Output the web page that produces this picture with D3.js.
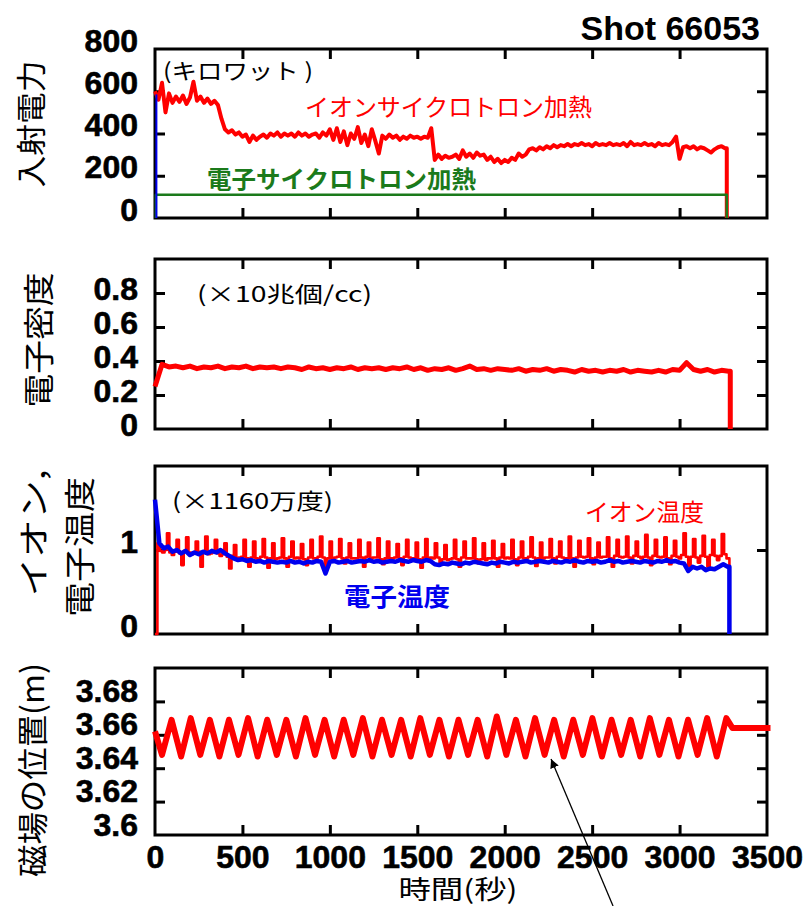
<!DOCTYPE html>
<html>
<head>
<meta charset="utf-8">
<script src="https://cdn.jsdelivr.net/npm/d3@7"></script>
<style>
  body { margin: 0; background: #fff; }
  .tick text { font-family: "Liberation Sans", Arial, sans-serif; font-weight: bold; font-size: 32px; fill: #000; stroke: #000; stroke-width: 0.6px; }
  .jp { font-family: "Noto Sans CJK JP", sans-serif; }
</style>
</head>
<body>
<div id="chart"></div>
<script>
/* DATA */
// time axis
const timeTicks = [0, 500, 1000, 1500, 2000, 2500, 3000, 3500];

// panel 1: injected power (kW), ICH sampled every 20 s from t = 0
const ichStep = 20;
const ichPower = [
  600, 560, 640, 500, 590, 545, 575, 550, 580, 540,
  570, 645, 555, 575, 545, 565, 540, 555, 535, 470,
  420, 405, 415, 395, 405, 385, 395, 360, 390, 370,
  385, 395, 380, 400, 390, 405, 385, 400, 390, 400,
  385, 405, 390, 400, 385, 395, 400, 380, 405, 390,
  420, 370, 425, 360, 410, 345, 400, 375, 430, 355,
  395, 340, 420, 365, 305, 390, 375, 395, 380, 390,
  370, 385, 375, 390, 380, 385, 375, 385, 380, 425,
  275, 300, 280, 295, 285, 290, 300, 280, 320, 290,
  305, 285, 310, 295, 300, 275, 290, 265, 280, 260,
  275, 265, 285, 275, 305, 290, 300, 325, 330, 320,
  335, 325, 340, 330, 345, 335, 345, 340, 350, 340,
  350, 345, 355, 345, 350, 340, 355, 345, 350, 345,
  355, 345, 350, 345, 355, 340, 360, 345, 350, 345,
  355, 345, 350, 340, 355, 345, 350, 345, 360, 385,
  280, 335, 340, 330, 340, 325, 335, 330, 320, 310,
  325, 335, 340, 330
];
const ichEnd = 3270;
const echTimes = [5, 5, 3270, 3270];
const echPower = [0, 110, 110, 0];
const startTimes = [8, 8];
const startPower = [0, 585];

// panel 2: electron density (x10^19 m^-3), every 40 s
const neStep = 40;
const density = [
  0.25, 0.38, 0.365, 0.37, 0.36, 0.37, 0.355, 0.365, 0.36, 0.37,
  0.355, 0.365, 0.36, 0.37, 0.355, 0.365, 0.36, 0.365, 0.355, 0.365,
  0.36, 0.35, 0.365, 0.355, 0.36, 0.35, 0.36, 0.355, 0.365, 0.35,
  0.36, 0.355, 0.36, 0.35, 0.36, 0.355, 0.365, 0.35, 0.36, 0.345,
  0.355, 0.35, 0.36, 0.345, 0.355, 0.37, 0.35, 0.355, 0.345, 0.355,
  0.35, 0.345, 0.355, 0.34, 0.35, 0.345, 0.355, 0.34, 0.35, 0.345,
  0.335, 0.35, 0.34, 0.345, 0.335, 0.345, 0.34, 0.35, 0.335, 0.345,
  0.34, 0.335, 0.345, 0.335, 0.35, 0.345, 0.39, 0.35, 0.34, 0.35,
  0.335, 0.345, 0.34
];
const neEnd = 3290;

// panel 3: ion temperature (x11.6 MK), every 13.675 s (4 samples per 54.7 s)
const tiStep = 13.675;
const ionTemp = [
  0, 1.08, 0.99, 0.97,   1.0, 1.2, 0.97, 0.94,   0.98, 1.12, 0.96, 0.82,
  0.99, 1.15, 0.97, 0.95, 0.96, 1.1, 0.98, 0.8,   0.97, 1.16, 0.95, 0.96,
  0.98, 1.12, 0.96, 0.93, 0.95, 1.08, 0.92, 0.78, 0.93, 1.06, 0.9, 0.91,
  0.92, 1.12, 0.9, 0.8,   0.91, 1.1, 0.9, 0.89,   0.92, 1.13, 0.91, 0.79,
  0.9, 1.08, 0.89, 0.9,   0.91, 1.14, 0.9, 0.8,   0.92, 1.1, 0.9, 0.91,
  0.9, 1.07, 0.89, 0.82,  0.91, 1.12, 0.9, 0.9,   0.92, 1.16, 0.91, 0.81,
  0.9, 1.1, 0.89, 0.91,   0.92, 1.13, 0.9, 0.84,  0.91, 1.08, 0.9, 0.9,
  0.9, 1.12, 0.91, 0.8,   0.92, 1.09, 0.9, 0.91,  0.91, 1.14, 0.89, 0.83,
  0.9, 1.1, 0.9, 0.9,     0.91, 1.07, 0.9, 0.82,  0.92, 1.12, 0.91, 0.9,
  0.9, 1.09, 0.89, 0.79,  0.91, 1.13, 0.9, 0.91,  0.9, 1.08, 0.91, 0.83,
  0.89, 1.06, 0.88, 0.89, 0.9, 1.12, 0.89, 0.8,   0.91, 1.1, 0.9, 0.9,
  0.9, 1.14, 0.89, 0.84,  0.89, 1.08, 0.88, 0.9,  0.9, 1.11, 0.9, 0.8,
  0.91, 1.07, 0.9, 0.91,  0.9, 1.12, 0.89, 0.82,  0.91, 1.1, 0.9, 0.9,
  0.92, 1.15, 0.91, 0.81, 0.9, 1.09, 0.9, 0.91,   0.91, 1.13, 0.9, 0.84,
  0.92, 1.1, 0.91, 0.9,   0.9, 1.16, 0.9, 0.8,    0.91, 1.11, 0.92, 0.91,
  0.92, 1.14, 0.9, 0.83,  0.91, 1.09, 0.91, 0.92, 0.92, 1.15, 0.9, 0.8,
  0.93, 1.12, 0.92, 0.91, 0.92, 1.16, 0.91, 0.84, 0.93, 1.1, 0.92, 0.9,
  0.92, 1.18, 0.91, 0.82, 0.93, 1.12, 0.92, 0.91, 0.92, 1.15, 0.9, 0.83,
  0.93, 1.11, 0.92, 0.9,  0.94, 1.2, 0.92, 0.81,  0.92, 1.13, 0.91, 0.85,
  0.93, 1.17, 0.92, 0.8,  0.94, 1.12, 0.93, 0.88, 0.93, 1.19, 0.95, 0.9
];
// electron temperature, every 25 s
const teStep = 25;
const elecTemp = [
  1.6, 1.08, 1.02, 1.04, 0.98, 1.0, 0.96, 0.99, 0.94, 0.97,
  0.95, 0.98, 0.96, 0.99, 0.97, 1.0, 0.96, 0.93, 0.9, 0.88,
  0.89, 0.87, 0.88, 0.86, 0.87, 0.85, 0.87, 0.86, 0.85, 0.86,
  0.85, 0.87, 0.85, 0.86, 0.84, 0.86, 0.85, 0.87, 0.86, 0.72,
  0.86, 0.87, 0.85, 0.86, 0.87, 0.85, 0.86, 0.87, 0.86, 0.88,
  0.86, 0.87, 0.85, 0.86, 0.87, 0.86, 0.88, 0.87, 0.86, 0.88,
  0.87, 0.86, 0.88, 0.87, 0.83, 0.82, 0.84, 0.83, 0.85, 0.84,
  0.83, 0.85, 0.84, 0.86, 0.85, 0.84, 0.83, 0.85, 0.84, 0.86,
  0.85, 0.84, 0.86, 0.85, 0.86, 0.87, 0.85, 0.86, 0.87, 0.86,
  0.85, 0.87, 0.86, 0.85, 0.87, 0.86, 0.88, 0.86, 0.85, 0.87,
  0.86, 0.87, 0.85, 0.86, 0.88, 0.86, 0.87, 0.85, 0.86, 0.87,
  0.86, 0.85, 0.87, 0.86, 0.85, 0.87, 0.86, 0.88, 0.86, 0.87,
  0.85, 0.84, 0.75, 0.8, 0.78, 0.8, 0.76, 0.78, 0.77, 0.8,
  0.83, 0.8
];
const tEnd = 3285;

// panel 4: magnetic axis position (m); alternating trough / peak every 54.7 s from t = 40
const axStart = 40, axStep = 54.7;
const axisPos = [
  3.648, 3.669, 3.647, 3.670, 3.648, 3.669, 3.647, 3.669, 3.648, 3.670,
  3.647, 3.669, 3.648, 3.669, 3.647, 3.670, 3.648, 3.669, 3.647, 3.669,
  3.648, 3.670, 3.647, 3.669, 3.648, 3.669, 3.647, 3.670, 3.648, 3.669,
  3.647, 3.669, 3.648, 3.669, 3.647, 3.671, 3.648, 3.669, 3.647, 3.670,
  3.648, 3.669, 3.647, 3.669, 3.648, 3.670, 3.647, 3.669, 3.648, 3.669,
  3.647, 3.670, 3.648, 3.669, 3.647, 3.669, 3.648, 3.670, 3.647, 3.670
];
const axInitial = [0, 3.662];
const axHoldTimes = [3303, 3520];
const axHold = 3.664;

/* LAYOUT */
const W = 807, H = 906;
const X0 = 155, X1 = 767;
const RED = "#ff0000", BLUE = "#0000ee", GREEN = "#1b7a1b";

const svg = d3.select("#chart").append("svg")
  .attr("width", W).attr("height", H)
  .style("display", "block");

const x = d3.scaleLinear().domain([0, 3500]).range([X0, X1]);

const y1 = d3.scaleLinear().domain([0, 800]).range([218, 49]);
const y2 = d3.scaleLinear().domain([0, 1]).range([429, 259]);
const y3 = d3.scaleLinear().domain([0, 2]).range([634, 466]);
const y4 = d3.scaleLinear().domain([3.6, 3.7]).range([835, 668]);

const series = (vals, t0, step) => vals.map((v, i) => [t0 + i * step, v]);

function frame(y, labels, inner, dy, showX) {
  const top = y.range()[1], bottom = y.range()[0];
  svg.append("rect")
    .attr("x", X0).attr("y", top)
    .attr("width", X1 - X0).attr("height", bottom - top)
    .attr("fill", "none").attr("stroke", "#000").attr("stroke-width", 3);

  const style = g => {
    g.select(".domain").remove();
    g.selectAll(".tick line").attr("stroke", "#000").attr("stroke-width", 3);
  };

  svg.append("g").attr("transform", `translate(${X0},0)`)
    .call(d3.axisLeft(y).tickValues(labels).tickSize(-10).tickPadding(17).tickFormat(d => String(d)))
    .call(style)
    .call(g => g.selectAll(".tick line").filter(d => !inner.includes(d)).remove())
    .call(g => g.selectAll(".tick text").attr("dy", dy));

  svg.append("g").attr("transform", `translate(${X1},0)`)
    .call(d3.axisRight(y).tickValues(inner).tickSize(-10).tickFormat(""))
    .call(style);

  svg.append("g").attr("transform", `translate(0,${top})`)
    .call(d3.axisTop(x).tickValues(timeTicks.slice(1, -1)).tickSize(-10).tickFormat(""))
    .call(style);

  const bx = svg.append("g").attr("transform", `translate(0,${bottom})`)
    .call(d3.axisBottom(x).tickValues(showX ? timeTicks : timeTicks.slice(1, -1))
      .tickSize(-10).tickPadding(10).tickFormat(showX ? d => d : ""))
    .call(style);
  if (showX) bx.selectAll(".tick line").filter(d => d === 0 || d === 3500).remove();
}

frame(y1, [0, 200, 400, 600, 800], [200, 400, 600], "2px", false);
frame(y2, [0, 0.2, 0.4, 0.6, 0.8], [0.2, 0.4, 0.6, 0.8], "6px", false);
frame(y3, [0, 1], [1], "2px", false);
frame(y4, [3.6, 3.62, 3.64, 3.66, 3.68], [3.62, 3.64, 3.66, 3.68], "0px", true);

function draw(data, y, color, width, curve) {
  const line = d3.line().x(d => x(d[0])).y(d => y(d[1]));
  if (curve) line.curve(curve);
  svg.append("path")
    .datum(data)
    .attr("fill", "none")
    .attr("stroke", color)
    .attr("stroke-width", width)
    .attr("stroke-linejoin", "round")
    .attr("d", line);
}

// panel 1
const ich = series(ichPower, 0, ichStep);
ich.push([ichEnd, ichPower[ichPower.length - 1]], [ichEnd, 0]);
draw(ich, y1, RED, 4);
draw(echTimes.map((t, i) => [t, echPower[i]]), y1, GREEN, 2.5);
draw(startTimes.map((t, i) => [t, startPower[i]]), y1, BLUE, 2);

// panel 2
const ne = series(density, 0, neStep);
ne.push([neEnd, density[density.length - 1]], [neEnd, 0]);
draw(ne, y2, RED, 5);

// panel 3
const ti = series(ionTemp, 0, tiStep);
ti.push([tEnd, ionTemp[ionTemp.length - 1]], [tEnd, 0]);
draw(ti, y3, RED, 2.6, d3.curveStepAfter);
const te = series(elecTemp, 0, teStep);
te.push([tEnd, elecTemp[elecTemp.length - 1]], [tEnd, 0]);
draw(te, y3, BLUE, 4.5);

// panel 4
const ax = [axInitial].concat(series(axisPos, axStart, axStep));
axHoldTimes.forEach(t => ax.push([t, axHold]));
draw(ax, y4, RED, 6);

/* TEXT */
const text = (str, px, py, opts) => {
  const t = svg.append("text").attr("x", px).attr("y", py).text(str)
    .attr("class", opts.cls || "jp")
    .attr("font-size", opts.size)
    .attr("font-weight", opts.weight || 400)
    .attr("fill", opts.color || "#000")
    .attr("text-anchor", opts.anchor || "start");
  if (opts.len) t.attr("textLength", opts.len).attr("lengthAdjust", "spacingAndGlyphs");
  if (opts.rotate) t.attr("transform", `rotate(-90,${px},${py})`).attr("dominant-baseline", "central");
  return t;
};

text("Shot 66053", 760, 40, { cls: "", size: 34, weight: 700, anchor: "end" })
  .style("font-family", "'Liberation Sans', Arial, sans-serif");

text("(キロワット )", 163, 79, { size: 22, len: 150 });
text("イオンサイクロトロン加熱", 305, 116, { size: 24, color: RED, len: 287 });
text("電子サイクロトロン加熱", 207, 188, { size: 24, weight: 700, color: GREEN, len: 269 });
text("(×10兆個/cc)", 197, 302, { size: 22, len: 175 });
text("(×1160万度)", 172, 509, { size: 22, len: 161 });
text("イオン温度", 585, 521, { size: 24, color: RED, len: 119 });
text("電子温度", 344, 606, { size: 25, weight: 700, color: BLUE, len: 106 });
text("時間(秒)", 458, 899, { size: 26, anchor: "middle", len: 119 });

// y titles
text("入射電力", 29, 124, { size: 30, anchor: "middle", rotate: true, len: 127 });
text("電子密度", 36, 340, { size: 31, anchor: "middle", rotate: true, len: 135 });
text("イオン,", 31, 533, { size: 31, anchor: "middle", rotate: true, len: 127 });
text("電子温度", 77, 547, { size: 31, anchor: "middle", rotate: true, len: 140 });
text("磁場の位置(m)", 30, 770, { size: 31, anchor: "middle", rotate: true, len: 214 });

// arrow pointing at one trough of the axis oscillation
svg.append("defs").append("marker")
  .attr("id", "head").attr("viewBox", "0 0 10 10")
  .attr("refX", 10).attr("refY", 5)
  .attr("markerWidth", 9).attr("markerHeight", 9)
  .attr("markerUnits", "userSpaceOnUse")
  .attr("orient", "auto")
  .append("path").attr("d", "M0,0L10,5L0,10Z").attr("fill", "#000");

const tip = [x(2265), y4(3.6455)];
svg.append("line")
  .attr("x1", tip[0] + 62).attr("y1", H)
  .attr("x2", tip[0]).attr("y2", tip[1])
  .attr("stroke", "#000").attr("stroke-width", 1.3)
  .attr("marker-end", "url(#head)");
</script>
</body>
</html>
